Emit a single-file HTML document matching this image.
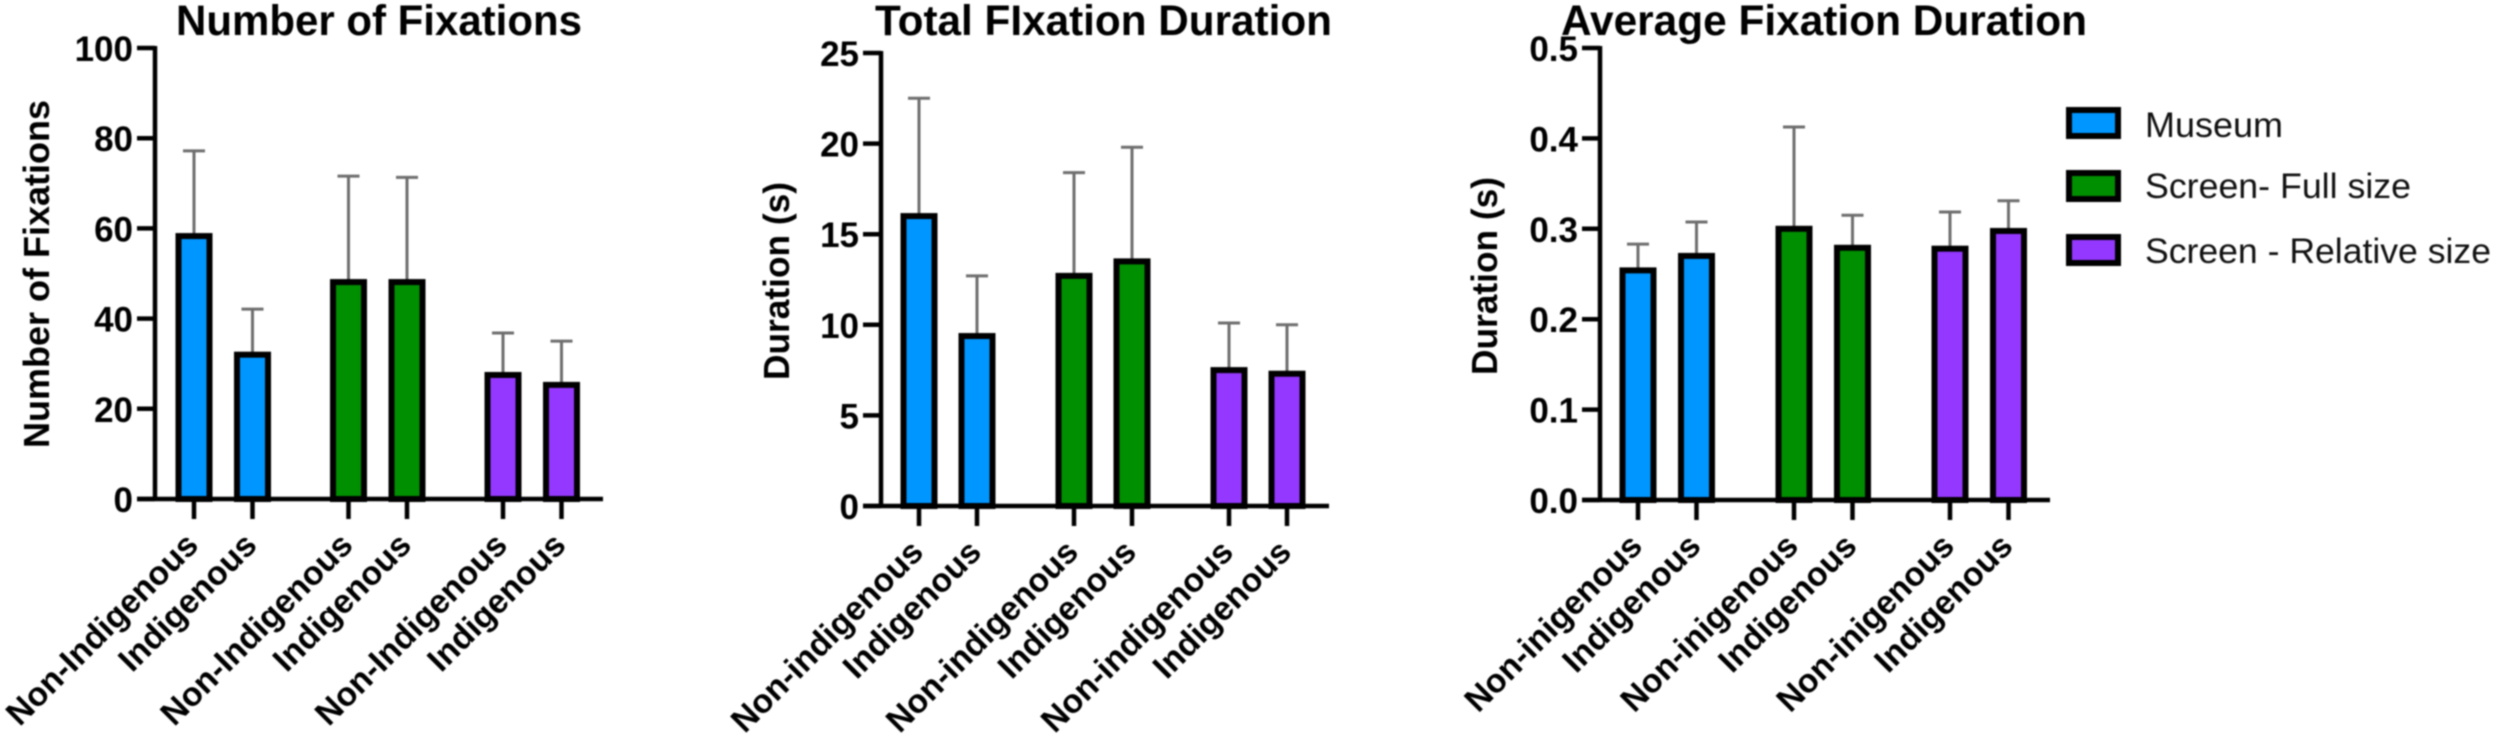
<!DOCTYPE html>
<html lang="en">
<head>
<meta charset="utf-8">
<title>Fixation charts</title>
<style>
html,body{margin:0;padding:0;background:#fff;width:2500px;height:741px;overflow:hidden}
svg{display:block;filter:blur(0.8px)}
text{font-family:"Liberation Sans",sans-serif;fill:#000}
.title{font-size:43px;font-weight:700}
.ytitle{font-size:36px;font-weight:700}
.tick{font-size:35px;font-weight:700}
.xl{font-size:33.5px;font-weight:700}
.leg{font-size:35px;fill:#111}
</style>
</head>
<body>
<svg id="root" width="2500" height="741" viewBox="0 0 2500 741" xmlns="http://www.w3.org/2000/svg">
  <text class="title" x="176" y="35" textLength="406" lengthAdjust="spacingAndGlyphs">Number of Fixations</text>
  <text class="title" x="875" y="35" textLength="457" lengthAdjust="spacingAndGlyphs">Total FIxation Duration</text>
  <text class="title" x="1561" y="35" textLength="526" lengthAdjust="spacingAndGlyphs">Average Fixation Duration</text>

  <text class="ytitle" transform="translate(49,448) rotate(-90)" textLength="348" lengthAdjust="spacingAndGlyphs">Number of Fixations</text>
  <text class="ytitle" transform="translate(789,380) rotate(-90)" textLength="198" lengthAdjust="spacingAndGlyphs">Duration (s)</text>
  <text class="ytitle" transform="translate(1497,375) rotate(-90)" textLength="198" lengthAdjust="spacingAndGlyphs">Duration (s)</text>

  <g>
    <rect x="2069" y="110" width="49" height="26" fill="#0096FF" stroke="#000" stroke-width="6"></rect>
    <text class="leg" x="2145" y="137" textLength="138" lengthAdjust="spacingAndGlyphs">Museum</text>
    <rect x="2069" y="173" width="49" height="26" fill="#008F00" stroke="#000" stroke-width="6"></rect>
    <text class="leg" x="2145" y="198" textLength="266" lengthAdjust="spacingAndGlyphs">Screen- Full size</text>
    <rect x="2069" y="237" width="49" height="26" fill="#9437FF" stroke="#000" stroke-width="6"></rect>
    <text class="leg" x="2145" y="263" textLength="346" lengthAdjust="spacingAndGlyphs">Screen - Relative size</text>
  </g>
</svg>
<script>
// Shared series colours, one per bar
const barColors = ['#0096FF', '#0096FF', '#008F00', '#008F00', '#9437FF', '#9437FF'];

// Chart 1: Number of Fixations
const fixationLabels = ['Non-Indigenous', 'Indigenous', 'Non-Indigenous', 'Indigenous', 'Non-Indigenous', 'Indigenous'];
const fixationMeans = [58.3, 32, 48.1, 48.1, 27.5, 25.3];
const fixationTops = [77.2, 42.1, 71.6, 71.3, 36.8, 35];
const fixationTicks = [0, 20, 40, 60, 80, 100];
const fixationTickLabels = ['0', '20', '40', '60', '80', '100'];

// Chart 2: Total Fixation Duration
const totalLabels = ['Non-indigenous', 'Indigenous', 'Non-indigenous', 'Indigenous', 'Non-indigenous', 'Indigenous'];
const totalMeans = [16.0, 9.38, 12.7, 13.5, 7.5, 7.3];
const totalTops = [22.5, 12.7, 18.4, 19.8, 10.1, 10.0];
const totalTicks = [0, 5, 10, 15, 20, 25];
const totalTickLabels = ['0', '5', '10', '15', '20', '25'];

// Chart 3: Average Fixation Duration
const averageLabels = ['Non-inigenous', 'Indigenous', 'Non-inigenous', 'Indigenous', 'Non-inigenous', 'Indigenous'];
const averageMeans = [0.254, 0.27, 0.30, 0.279, 0.278, 0.2976];
const averageTops = [0.283, 0.3075, 0.4126, 0.315, 0.3186, 0.331];
const averageTicks = [0, 0.1, 0.2, 0.3, 0.4, 0.5];
const averageTickLabels = ['0.0', '0.1', '0.2', '0.3', '0.4', '0.5'];

const NS = 'http://www.w3.org/2000/svg';
const root = document.getElementById('root');

function make(tag, attrs, parent) {
  const el = document.createElementNS(NS, tag);
  for (const k in attrs) el.setAttribute(k, attrs[k]);
  parent.appendChild(el);
  return el;
}

function drawChart(cfg) {
  const yScale = v => cfg.y0 + (cfg.yTop - cfg.y0) * (v - cfg.min) / (cfg.max - cfg.min);
  const xScale = i => cfg.firstX + cfg.slot * i + cfg.groupGap * Math.floor(i / 2);

  const g = make('g', {}, root);
  
  

  // error bars
  cfg.means.forEach((m, i) => {
    const x = xScale(i);
    const stem = make('line', {x1: x, x2: x, y1: yScale(m), y2: yScale(cfg.tops[i]), stroke: '#6e6e6e', 'stroke-width': 3}, g);
    
    
    const cap = make('line', {x1: x - 11, x2: x + 11, y1: yScale(cfg.tops[i]), y2: yScale(cfg.tops[i]), stroke: '#6e6e6e', 'stroke-width': 3}, g);
    
    
  });

  // bars
  cfg.means.forEach((m, i) => {
    const x = xScale(i);
    const bar = make('rect', {x: x - 15.5, y: yScale(m), width: 31, height: yScale(cfg.min) - yScale(m), fill: barColors[i], stroke: '#000', 'stroke-width': 6}, g);
    
    
  });

  // y axis
  const yAxis = make('line', {x1: cfg.axisX, x2: cfg.axisX, y1: yScale(cfg.max) - 2, y2: yScale(cfg.min), stroke: '#000', 'stroke-width': 4.5}, g);
  
  

  cfg.ticks.forEach((t, i) => {
    const y = yScale(t);
    const tick = make('line', {x1: cfg.axisX - 18, x2: cfg.axisX, y1: y, y2: y, stroke: '#000', 'stroke-width': 4.5}, g);
    
    
    const lab = make('text', {x: cfg.axisX - 22, y: y + 13, 'text-anchor': 'end', class: 'tick'}, g);
    
    
    lab.textContent = cfg.tickLabels[i];
  });

  // x axis
  const xAxis = make('line', {x1: cfg.axisX - 18, x2: cfg.axisEnd, y1: yScale(cfg.min), y2: yScale(cfg.min), stroke: '#000', 'stroke-width': 4.5}, g);
  
  

  cfg.labels.forEach((name, i) => {
    const x = xScale(i);
    const tick = make('line', {x1: x, x2: x, y1: yScale(cfg.min), y2: yScale(cfg.min) + 20, stroke: '#000', 'stroke-width': 4.5}, g);
    
    
    const lab = make('text', {'text-anchor': 'end', class: 'xl', transform: 'translate(' + (x + 6) + ',' + (yScale(cfg.min) + 48) + ') rotate(-45)'}, g);
    
    
    lab.textContent = name;
  });
}

drawChart({name: 'chart-number-of-fixations', labels: fixationLabels, means: fixationMeans, tops: fixationTops, ticks: fixationTicks, tickLabels: fixationTickLabels,
  min: 0, max: 100, y0: 499, yTop: 48, axisX: 155, axisEnd: 603, firstX: 194, slot: 58.5, groupGap: 37.5});
drawChart({name: 'chart-total-fixation-duration', labels: totalLabels, means: totalMeans, tops: totalTops, ticks: totalTicks, tickLabels: totalTickLabels,
  min: 0, max: 25, y0: 506, yTop: 53, axisX: 881, axisEnd: 1329, firstX: 919, slot: 58, groupGap: 39});
drawChart({name: 'chart-average-fixation-duration', labels: averageLabels, means: averageMeans, tops: averageTops, ticks: averageTicks, tickLabels: averageTickLabels,
  min: 0, max: 0.5, y0: 500, yTop: 48, axisX: 1600, axisEnd: 2050, firstX: 1638, slot: 58.5, groupGap: 39});
</script>
</body>
</html>
